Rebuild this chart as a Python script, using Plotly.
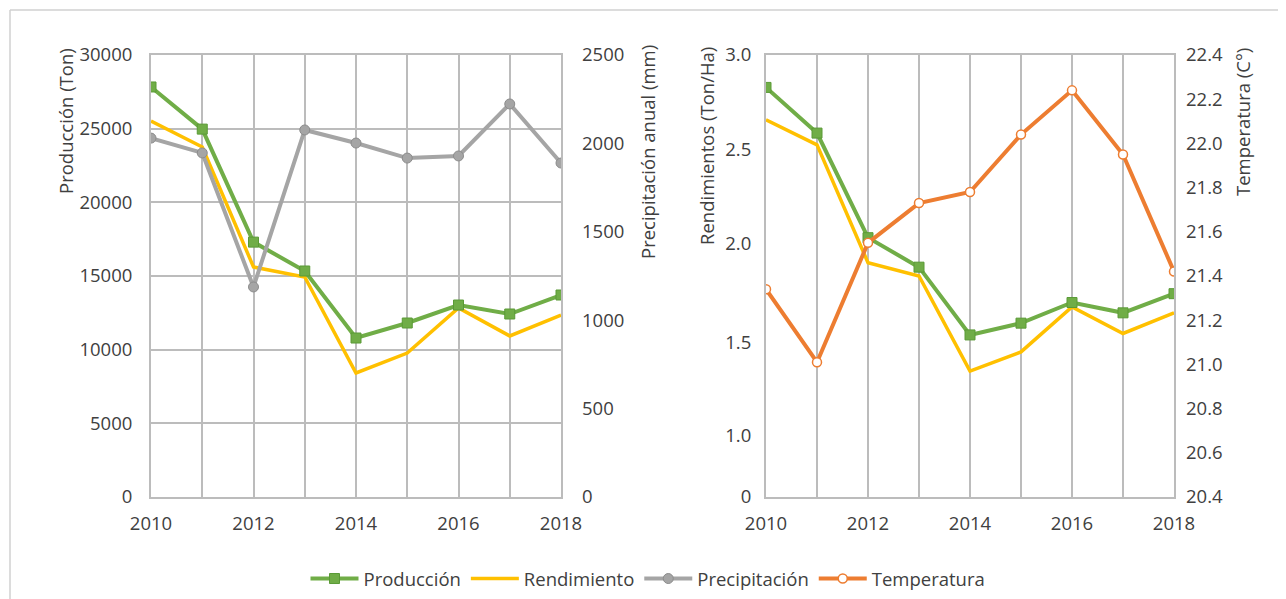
import plotly.graph_objects as go

# data
years = [2010, 2011, 2012, 2013, 2014, 2015, 2016, 2017, 2018]
produccion_ton = [27830, 24970, 17300, 15340, 10790, 11810, 13030, 12420, 13710]
rendimiento_ton = [25520, 23760, 15610, 14930, 8420, 9770, 12830, 10930, 12350]
precipitacion_mm = [2030, 1946, 1188, 2076, 2002, 1917, 1929, 2223, 1889]
produccion_rel = [2.78, 2.47, 1.76, 1.56, 1.10, 1.18, 1.32, 1.25, 1.38]
rendimiento_ha = [2.56, 2.39, 1.59, 1.50, 0.855, 0.985, 1.29, 1.11, 1.25]
temperatura_c = [21.34, 21.01, 21.55, 21.73, 21.78, 22.04, 22.24, 21.95, 21.42]

# odd tick placement of the right-hand primary axis in the reference
rend_tickvals = [0, 0.42, 1.05, 1.72, 2.36, 3.0]
rend_ticktext = ["0", "1.0", "1.5", "2.0", "2.5", "3.0"]

GREEN = "#70ad47"
YELLOW = "#ffc000"
GRAY = "#a5a5a5"
ORANGE = "#ed7d31"
GRID = "#bcbcbc"
TEXT = "#404040"
FONT = "Open Sans"
TICK = 18.5

W, H = 1286, 599
PAGE_OFF = 8  # the page body margin pushes the figure 8px right and down


def px_x(x):
    return (x - PAGE_OFF) / W


def px_y(y):
    return (H - (y - PAGE_OFF)) / H


fig = go.Figure()

fig.add_trace(go.Scatter(
    x=years, y=precipitacion_mm, name="Precipitación", xaxis="x", yaxis="y2",
    mode="lines+markers", line=dict(color=GRAY, width=4),
    marker=dict(symbol="circle", size=10, color=GRAY, line=dict(color="#8c8c8c", width=1)),
    legendrank=3,
))
fig.add_trace(go.Scatter(
    x=years, y=rendimiento_ton, name="Rendimiento", xaxis="x", yaxis="y",
    mode="lines", line=dict(color=YELLOW, width=3.5), legendrank=2,
))
fig.add_trace(go.Scatter(
    x=years, y=produccion_ton, name="Producción", xaxis="x", yaxis="y",
    mode="lines+markers", line=dict(color=GREEN, width=4),
    marker=dict(symbol="square", size=10, color=GREEN, line=dict(color="#5a9a36", width=1)),
    legendrank=1,
))

fig.add_trace(go.Scatter(
    x=years, y=rendimiento_ha, name="Rendimiento", xaxis="x2", yaxis="y3",
    mode="lines", line=dict(color=YELLOW, width=3.5), showlegend=False,
))
fig.add_trace(go.Scatter(
    x=years, y=produccion_rel, name="Producción", xaxis="x2", yaxis="y3",
    mode="lines+markers", line=dict(color=GREEN, width=4),
    marker=dict(symbol="square", size=10, color=GREEN, line=dict(color="#5a9a36", width=1)),
    showlegend=False,
))
fig.add_trace(go.Scatter(
    x=years, y=temperatura_c, name="Temperatura", xaxis="x2", yaxis="y4",
    mode="lines+markers", line=dict(color=ORANGE, width=4),
    marker=dict(symbol="circle", size=9, color="white", line=dict(color=ORANGE, width=1.5)),
    legendrank=4,
))

dom_left = [px_x(151), px_x(561)]
dom_right = [px_x(766), px_x(1174)]
dom_y = [px_y(497), px_y(55)]

xcommon = dict(
    range=[2010, 2018], tick0=2010, dtick=2, showgrid=True, gridcolor=GRID, gridwidth=2,
    minor=dict(dtick=1, showgrid=True, gridcolor=GRID, gridwidth=2),
    showline=True, linecolor=GRID, linewidth=2, mirror=True, zeroline=False,
    ticks="", ticklabelstandoff=9, tickfont=dict(size=TICK, color=TEXT),
    automargin=False,
)

fig.update_layout(
    template="none",
    width=W, height=H,
    margin=dict(l=0, r=0, t=0, b=0),
    paper_bgcolor="white", plot_bgcolor="white",
    font=dict(family=FONT, color=TEXT),
    xaxis=dict(domain=dom_left, anchor="y", **xcommon),
    xaxis2=dict(domain=dom_right, anchor="y3", **xcommon),
    yaxis=dict(
        domain=dom_y, anchor="x", range=[0, 30000], dtick=5000, tickformat="d",
        showgrid=True, gridcolor=GRID, gridwidth=2, zeroline=False,
        showline=True, linecolor=GRID, linewidth=2, mirror=True, ticks="",
        ticklabelstandoff=13, tickfont=dict(size=TICK, color=TEXT), automargin=False,
    ),
    yaxis2=dict(
        overlaying="y", side="right", anchor="x", range=[0, 2500], dtick=500,
        tickformat="d", showgrid=False, zeroline=False, ticks="",
        ticklabelstandoff=20, tickfont=dict(size=TICK, color=TEXT), automargin=False,
    ),
    yaxis3=dict(
        domain=dom_y, anchor="x2", range=[0, 3], tickmode="array",
        tickvals=rend_tickvals, ticktext=rend_ticktext,
        showgrid=False, zeroline=False, ticks="",
        showline=True, linecolor=GRID, linewidth=2, mirror=True,
        ticklabelstandoff=9, tickfont=dict(size=TICK, color=TEXT), automargin=False,
    ),
    yaxis4=dict(
        overlaying="y3", side="right", anchor="x2", range=[20.4, 22.4], dtick=0.2,
        tickformat=".1f", showgrid=False, zeroline=False, ticks="",
        ticklabelstandoff=11, tickfont=dict(size=TICK, color=TEXT), automargin=False,
    ),
    yaxis5=dict(
        overlaying="y3", anchor="x2", range=[0, 3], dtick=0.5,
        showgrid=True, gridcolor=GRID, gridwidth=2, zeroline=False,
        showticklabels=False, ticks="", automargin=False,
    ),
    legend=dict(
        orientation="h", x=px_x(648), xanchor="center", y=px_y(579), yanchor="middle",
        font=dict(size=18.5, color=TEXT), bgcolor="rgba(0,0,0,0)", itemwidth=48,
    ),
    showlegend=True,
)

# axis titles sit near the top in the reference, so place them by hand
titles = [
    ("Producción (Ton)", 65, 121),
    ("Precipitación anual (mm)", 647, 152),
    ("Rendimientos (Ton/Ha)", 707, 146),
    ("Temperatura (C°)", 1242, 122),
]
for text, x, y in titles:
    fig.add_annotation(
        text=text, x=px_x(x), y=px_y(y), xref="paper", yref="paper",
        textangle=-90, showarrow=False, font=dict(size=18.5, color=TEXT),
        xanchor="center", yanchor="middle",
    )

# thin chart-area frame along the left and top edges
fig.add_shape(type="line", xref="paper", yref="paper",
              x0=px_x(10), x1=px_x(10), y0=0, y1=px_y(10),
              line=dict(color="#d0d0d0", width=1.5))
fig.add_shape(type="line", xref="paper", yref="paper",
              x0=px_x(10), x1=1, y0=px_y(10), y1=px_y(10),
              line=dict(color="#d0d0d0", width=1.5))

fig.write_html("out.html")
